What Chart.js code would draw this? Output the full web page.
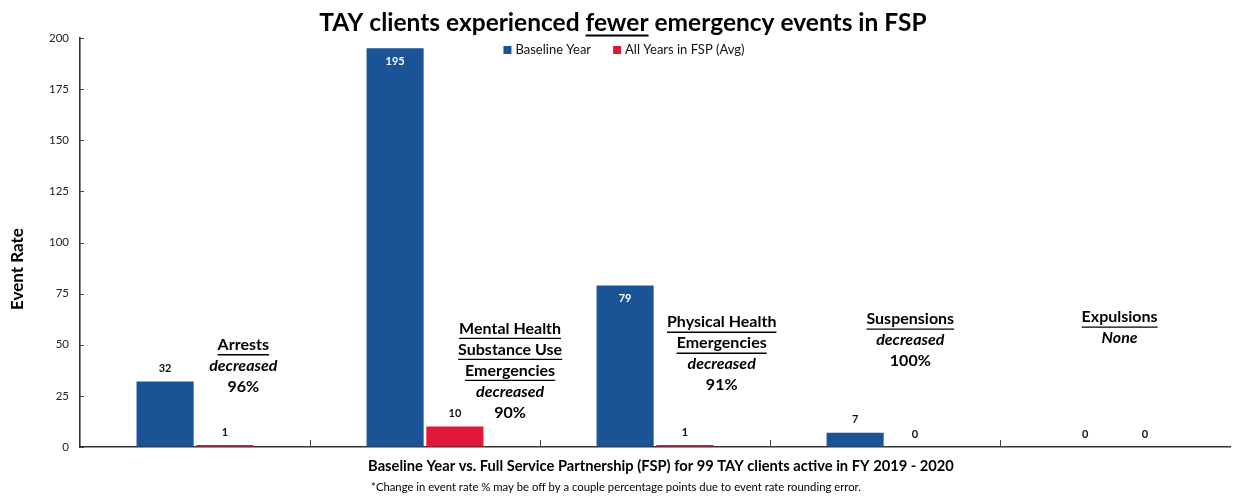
<!DOCTYPE html>
<html>
<head>
<meta charset="utf-8">
<script src="https://cdn.jsdelivr.net/npm/chart.js@4"></script>
<style>
  html, body { margin: 0; padding: 0; background: #fff; }
  #wrap { width: 1233px; height: 496px; }
</style>
</head>
<body>
<div id="wrap"><canvas id="eventsChart"></canvas></div>
<script>
// chart data
const categories = ['Arrests', 'Mental Health Substance Use Emergencies', 'Physical Health Emergencies', 'Suspensions', 'Expulsions'];
const seriesLabels = ['Baseline Year', 'All Years in FSP (Avg)'];
const baselineValues = [32, 195, 79, 7, 0];
const fspValues = [1, 10, 1, 0, 0];
const yTicks = [0, 25, 50, 75, 100, 125, 150, 175, 200];

// annotation texts per category
const noteHeads = [['Arrests'], ['Mental Health', 'Substance Use', 'Emergencies'], ['Physical Health', 'Emergencies'], ['Suspensions'], ['Expulsions']];
const noteVerbs = ['decreased', 'decreased', 'decreased', 'decreased', 'None'];
const notePercents = ['96%', '90%', '91%', '100%', ''];

// where the annotations sit: offset in category widths, top line at axis value
const notePlace = [
  { dx: 0.21, top: 50 },
  { dx: 0.37, top: 58 },
  { dx: 0.29, top: 61 },
  { dx: 0.11, top: 62.5 },
  { dx: 0.02, top: 63.5 }
];

const FONT = 'Lato, "Open Sans", sans-serif';
const colors = ['#1a5496', '#e3173a'];

function underlineText(ctx, text, x, y, lw) {
  const w = ctx.measureText(text).width;
  ctx.save();
  ctx.lineWidth = lw || 1.3;
  ctx.beginPath();
  ctx.moveTo(x - w / 2, y + 10);
  ctx.lineTo(x + w / 2, y + 10);
  ctx.stroke();
  ctx.restore();
}

const decorPlugin = {
  id: 'decor',
  afterDatasetsDraw(chart) {
    const ctx = chart.ctx;
    const xs = chart.scales.x, ys = chart.scales.y;
    const area = chart.chartArea;

    // value labels
    ctx.save();
    ctx.font = 'bold 11px ' + FONT;
    ctx.textAlign = 'center';
    ctx.textBaseline = 'middle';
    chart.data.datasets.forEach((ds, di) => {
      chart.getDatasetMeta(di).data.forEach((bar, i) => {
        const v = ds.data[i];
        if (v > 50) {
          ctx.fillStyle = '#fff';
          ctx.fillText(v, bar.x, bar.y + 13);
        } else {
          ctx.fillStyle = '#111';
          ctx.fillText(v, bar.x, bar.y - 13);
        }
      });
    });
    ctx.restore();

    // separator ticks on x axis, inward ticks on y axis
    ctx.save();
    ctx.strokeStyle = '#444';
    ctx.lineWidth = 1;
    for (let i = 1; i < categories.length; i++) {
      const x = Math.round((xs.getPixelForValue(i - 1) + xs.getPixelForValue(i)) / 2) + 0.5;
      ctx.beginPath();
      ctx.moveTo(x, area.bottom);
      ctx.lineTo(x, area.bottom - 7);
      ctx.stroke();
    }
    yTicks.forEach(v => {
      const y = Math.round(ys.getPixelForValue(v)) + 0.5;
      ctx.beginPath();
      ctx.moveTo(area.left, y);
      ctx.lineTo(area.left + 4, y);
      ctx.stroke();
    });
    ctx.restore();

    // category annotations
    ctx.save();
    ctx.fillStyle = '#000';
    ctx.strokeStyle = '#000';
    ctx.textAlign = 'center';
    ctx.textBaseline = 'middle';
    const step = xs.getPixelForValue(1) - xs.getPixelForValue(0);
    categories.forEach((c, i) => {
      const x = xs.getPixelForValue(i) + notePlace[i].dx * step;
      let y = ys.getPixelForValue(notePlace[i].top);
      ctx.font = 'bold 16px ' + FONT;
      noteHeads[i].forEach(line => {
        ctx.fillText(line, x, y);
        underlineText(ctx, line, x, y, 1.3);
        y += 21;
      });
      ctx.font = 'italic bold 16px ' + FONT;
      ctx.fillText(noteVerbs[i], x, y);
      y += 21;
      if (notePercents[i]) {
        ctx.font = 'bold 16px ' + FONT;
        ctx.fillText(notePercents[i], x, y);
      }
    });
    ctx.restore();

    // title with underlined word
    ctx.save();
    ctx.fillStyle = '#000';
    ctx.strokeStyle = '#000';
    ctx.textBaseline = 'middle';
    ctx.font = 'bold 24.5px ' + FONT;
    const parts = ['TAY clients experienced ', 'fewer', ' emergency events in FSP'];
    const widths = parts.map(p => ctx.measureText(p).width);
    let tx = 623 - widths.reduce((a, b) => a + b, 0) / 2;
    const ty = 23;
    parts.forEach((p, k) => {
      ctx.fillText(p, tx, ty);
      if (k === 1) {
        ctx.lineWidth = 1.8;
        ctx.beginPath();
        ctx.moveTo(tx, ty + 12.5);
        ctx.lineTo(tx + widths[k], ty + 12.5);
        ctx.stroke();
      }
      tx += widths[k];
    });
    ctx.restore();

    // legend
    ctx.save();
    ctx.font = '13px ' + FONT;
    ctx.textBaseline = 'middle';
    const lw = seriesLabels.map(l => ctx.measureText(l).width);
    const gap = 22, box = 8;
    const total = lw[0] + lw[1] + 2 * (box + 4) + gap;
    let lx = 624 - total / 2;
    seriesLabels.forEach((l, k) => {
      ctx.fillStyle = colors[k];
      ctx.fillRect(lx, 50 - box / 2, box, box);
      ctx.fillStyle = '#111';
      ctx.fillText(l, lx + box + 4, 50);
      lx += box + 4 + lw[k] + gap;
    });
    ctx.restore();

    // axis titles and footnote
    ctx.save();
    ctx.fillStyle = '#000';
    ctx.textAlign = 'center';
    ctx.textBaseline = 'middle';
    ctx.font = 'bold 14.7px ' + FONT;
    ctx.fillText('Baseline Year vs. Full Service Partnership (FSP) for 99 TAY clients active in FY 2019 - 2020', 661, 466);
    ctx.font = '11.3px ' + FONT;
    ctx.fillText('*Change in event rate % may be off by a couple percentage points due to event rate rounding error.', 616, 487);
    ctx.translate(18, 269);
    ctx.rotate(-Math.PI / 2);
    ctx.font = 'bold 17px ' + FONT;
    ctx.fillText('Event Rate', 0, 0);
    ctx.restore();
  }
};

new Chart(document.getElementById('eventsChart'), {
  type: 'bar',
  data: {
    labels: categories,
    datasets: [
      { label: seriesLabels[0], data: baselineValues, backgroundColor: colors[0] },
      { label: seriesLabels[1], data: fspValues, backgroundColor: colors[1] }
    ]
  },
  options: {
    responsive: true,
    maintainAspectRatio: false,
    animation: false,
    layout: { padding: { left: 0, right: 3, top: 38, bottom: 0 } },
    datasets: { bar: { categoryPercentage: 0.52, barPercentage: 0.955 } },
    plugins: {
      legend: { display: false },
      title: { display: false },
      tooltip: { enabled: false }
    },
    scales: {
      x: {
        grid: { display: false, drawTicks: false },
        border: { color: '#333', width: 1.6 },
        ticks: { display: false },
        afterFit(scale) { scale.height = 49; }
      },
      y: {
        min: 0,
        max: 200,
        afterBuildTicks(scale) { scale.ticks = yTicks.map(v => ({ value: v })); },
        grid: { drawOnChartArea: false, drawTicks: false },
        border: { color: '#333', width: 1.6 },
        ticks: { color: '#222', font: { family: FONT, size: 11.5 }, padding: 11 },
        afterFit(scale) { scale.width = 80; }
      }
    }
  },
  plugins: [decorPlugin]
});
</script>
</body>
</html>
